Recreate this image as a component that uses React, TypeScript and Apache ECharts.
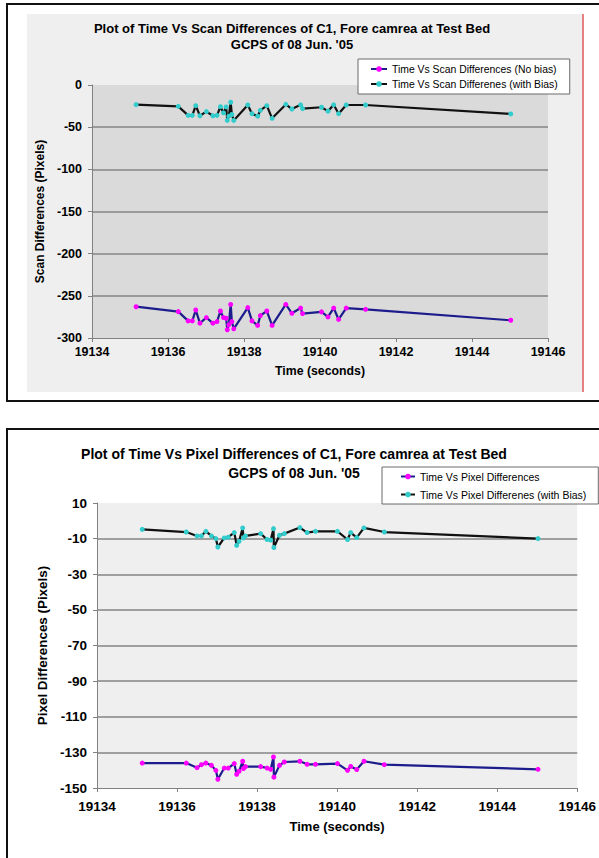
import React, { useEffect, useRef } from 'react';
import * as echarts from 'echarts';

const scanTitle = ['Plot of Time Vs Scan Differences of C1, Fore camrea at Test Bed', "GCPS of 08 Jun. '05"];
const pixelTitle = ['Plot of Time Vs Pixel Differences of C1, Fore camrea at Test Bed', "GCPS of 08 Jun. '05"];
const scanNames = ['Time Vs Scan Differences (No bias)', 'Time Vs Scan Differenes (with Bias)'];
const pixelNames = ['Time Vs Pixel Differences', 'Time Vs Pixel Differenes (with Bias)'];
const axisNames = ['Time (seconds)', 'Scan Differences (Pixels)', 'Pixel Differences (Pixels)'];

const scanTimes = [19135.16, 19136.27, 19136.53, 19136.64, 19136.73, 19136.84, 19137.01, 19137.18, 19137.29, 19137.38,
  19137.46, 19137.53, 19137.56, 19137.60, 19137.65, 19137.68, 19137.73, 19138.10, 19138.21, 19138.36,
  19138.43, 19138.60, 19138.74, 19139.10, 19139.26, 19139.49, 19139.54, 19140.04, 19140.21, 19140.36,
  19140.49, 19140.69, 19141.20, 19145.02];
const scanNoBias = [-262.9, -268.7, -279.7, -279.7, -266.8, -282.4, -275.8, -282.4, -280.5, -268,
  -275.8, -276.6, -290.2, -284.4, -260.2, -280.5, -289.1, -264, -279.7, -285.1,
  -273.4, -268, -285.1, -260.2, -270.7, -264.5, -271, -269, -275, -264.5,
  -278, -264.5, -266, -279];
const scanWithBias = [-23.3, -25.3, -36, -36, -24.5, -36.5, -31.6, -36.5, -36, -25.7,
  -33, -26, -42, -37, -20.5, -35, -42, -23.7, -34, -37,
  -30, -24.5, -39.5, -23, -28.5, -23.5, -28, -26.4, -31, -23.5,
  -34, -23.7, -23.7, -34.3];

const pixelTimes = [19135.13, 19136.23, 19136.50, 19136.61, 19136.72, 19136.86, 19136.97, 19137.02, 19137.18, 19137.28,
  19137.43, 19137.49, 19137.55, 19137.64, 19137.66, 19137.71, 19138.09, 19138.25, 19138.34, 19138.41,
  19138.42, 19138.56, 19138.68, 19139.07, 19139.25, 19139.46, 19140.01, 19140.26, 19140.34, 19140.49,
  19140.67, 19141.18, 19145.02];
const pixelNoBias = [-136, -136, -138.6, -136.9, -136, -137.3, -140.1, -145.1, -138.8, -138.8,
  -136.3, -142.3, -140.6, -135, -139.1, -138, -138, -138.8, -139.5, -132.6,
  -143.9, -137.3, -135.4, -135, -136.7, -136.7, -136.3, -140.1, -137.9, -139.6,
  -135, -136.9, -139.5];
const pixelWithBias = [-4.8, -6.3, -8.5, -8.5, -5.9, -8.5, -10, -14.7, -9.6, -9.2,
  -6.6, -13.8, -11.5, -4, -9.6, -8.5, -7.2, -10.5, -10.8, -4.4,
  -15, -8.1, -7.2, -3.8, -6.6, -5.9, -5.9, -10.5, -6.6, -9.4,
  -4, -6.3, -10];

const F = 'Liberation Sans';

export default function App() {
  const ref = useRef<HTMLDivElement>(null);
  useEffect(() => {
    document.body.style.margin = '0';
    const chart = echarts.init(ref.current as HTMLDivElement, null, { renderer: 'svg' });
    const pair = (ts: number[], vs: number[]) => ts.map((t, i) => [t, vs[i]]);
    const xAxisBase = (gridIndex: number, fs: number, margin: number, nfs: number, gap: number) => ({
      gridIndex, type: 'value', min: 19134, max: 19146, interval: 2,
      axisLine: { show: true, onZero: false, lineStyle: { color: '#808080', width: 1 } },
      axisTick: { show: true, length: 4, lineStyle: { color: '#808080' } },
      splitLine: { show: false },
      axisLabel: { formatter: (v: number) => String(v), fontSize: fs, fontWeight: 'bold', fontFamily: F, color: '#000', margin },
      name: axisNames[0], nameLocation: 'middle', nameGap: gap,
      nameTextStyle: { fontSize: nfs, fontWeight: 'bold', fontFamily: F, color: '#000' },
    });
    const yAxisBase = (gridIndex: number, min: number, max: number, interval: number, fs: number, name: string, nfs: number, gap: number) => ({
      gridIndex, type: 'value', min, max, interval,
      axisLine: { show: true, lineStyle: { color: '#808080', width: 1 } },
      axisTick: { show: true, length: 4, lineStyle: { color: '#808080' } },
      splitLine: { show: true, showMinLine: false, showMaxLine: false, lineStyle: { color: '#858585', width: 1.6 } },
      axisLabel: { fontSize: fs, fontWeight: 'bold', fontFamily: F, color: '#000', margin: 10 },
      name, nameLocation: 'middle', nameGap: gap,
      nameTextStyle: { fontSize: nfs, fontWeight: 'bold', fontFamily: F, color: '#000' },
    });
    const noBiasStyle = {
      symbol: 'circle', symbolSize: 5,
      itemStyle: { color: '#ff00ff' },
      lineStyle: { color: '#1c1c8c', width: 2.2 },
    };
    const biasStyle = {
      symbol: 'circle', symbolSize: 5,
      itemStyle: { color: '#33cccc' },
      lineStyle: { color: '#111111', width: 2.2 },
    };
    const titleText = (text: string, x: number, y: number, fs: number) => ({
      type: 'text', x, y, z: -5,
      style: { text, fontSize: fs, fontWeight: 'bold', fontFamily: F, fill: '#000', align: 'center', verticalAlign: 'middle' },
    });
    const option = {
      animation: false,
      graphic: [
        { type: 'rect', z: -20, shape: { x: 7, y: 4, width: 620, height: 397 }, style: { fill: '#fff', stroke: '#111', lineWidth: 2 } },
        { type: 'rect', z: -19, shape: { x: 27, y: 14, width: 556, height: 378 }, style: { fill: '#efefef' } },
        { type: 'line', z: -18, shape: { x1: 583, y1: 14, x2: 583, y2: 392 }, style: { stroke: '#e05a5a', lineWidth: 1.5 } },
        { type: 'rect', z: -20, shape: { x: 7, y: 429, width: 620, height: 450 }, style: { fill: '#fff', stroke: '#111', lineWidth: 2 } },
        titleText(scanTitle[0], 292, 28, 13),
        titleText(scanTitle[1], 292, 44, 13),
        titleText(pixelTitle[0], 294, 454, 14),
        titleText(pixelTitle[1], 294, 472.5, 14),
      ],
      grid: [
        { left: 92, top: 85, width: 456, height: 253, show: true, backgroundColor: '#dadada', borderWidth: 0 },
        { left: 97, top: 503, width: 487, height: 285, show: true, backgroundColor: '#efefef', borderWidth: 0 },
      ],
      xAxis: [xAxisBase(0, 12.5, 7, 12.3, 27), xAxisBase(1, 13.5, 11, 13, 32)],
      yAxis: [
        yAxisBase(0, -300, 0, 50, 12.5, axisNames[1], 12, 40),
        yAxisBase(1, -150, 10, 20, 13.5, axisNames[2], 13.4, 44),
      ],
      legend: [
        {
          data: scanNames, left: 358, top: 59, orient: 'vertical', selectedMode: false,
          itemWidth: 16, itemHeight: 7, itemGap: 3, padding: [4, 12, 4, 12],
          backgroundColor: '#fff', borderColor: '#6a6a6a', borderWidth: 1,
          textStyle: { fontSize: 10.4, fontFamily: F, color: '#000', lineHeight: 12 },
        },
        {
          data: pixelNames, left: 382, top: 467, orient: 'vertical', selectedMode: false,
          itemWidth: 14, itemHeight: 7, itemGap: 5, padding: [3, 12, 3, 18],
          backgroundColor: '#fff', borderColor: '#6a6a6a', borderWidth: 1,
          textStyle: { fontSize: 10.5, fontFamily: F, color: '#000', lineHeight: 13 },
        },
      ],
      series: [
        { name: scanNames[0], type: 'line', xAxisIndex: 0, yAxisIndex: 0, data: pair(scanTimes, scanNoBias), ...noBiasStyle },
        { name: scanNames[1], type: 'line', xAxisIndex: 0, yAxisIndex: 0, data: pair(scanTimes, scanWithBias), ...biasStyle },
        { name: pixelNames[0], type: 'line', xAxisIndex: 1, yAxisIndex: 1, data: pair(pixelTimes, pixelNoBias), ...noBiasStyle },
        { name: pixelNames[1], type: 'line', xAxisIndex: 1, yAxisIndex: 1, data: pair(pixelTimes, pixelWithBias), ...biasStyle },
      ],
    };
    chart.setOption(option as any);
    return () => chart.dispose();
  }, []);
  return <div ref={ref} style={{ width: 599, height: 858 }} />;
}
